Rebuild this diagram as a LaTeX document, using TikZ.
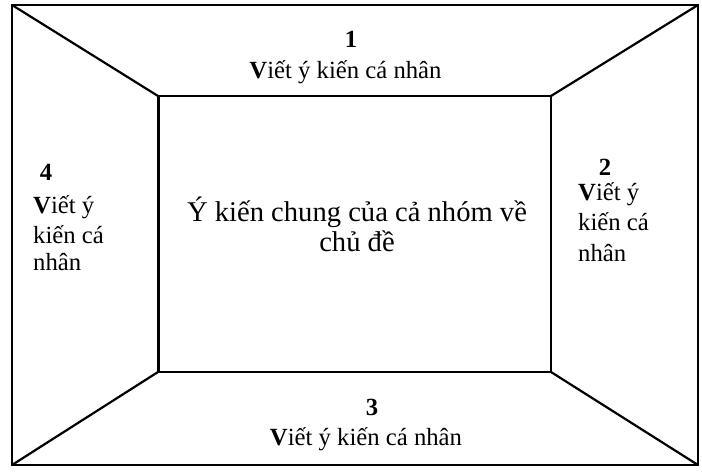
\documentclass[tikz,border=0pt]{standalone}
\usepackage{fontspec}
\setmainfont{Liberation Serif}
\begin{document}
\begin{tikzpicture}[x=1bp,y=-1bp,
  frame/.style={line width=1.6bp,black},
  diag/.style={line width=2.2bp,black},
  inner/.style={line width=1.2bp,black},
  side/.style={inner sep=0pt,font=\fontsize{24.7bp}{30bp}\selectfont},
  mid/.style={inner sep=0pt,font=\fontsize{28.6bp}{33bp}\selectfont}]
\useasboundingbox (0,0) rectangle (702,473);
\fill[white] (0,0) rectangle (702,473);
\coordinate (O1) at (12,5);
\coordinate (O2) at (698,5);
\coordinate (O3) at (698,465);
\coordinate (O4) at (12,465);
\coordinate (I1) at (158,96);
\coordinate (I2) at (551,96);
\coordinate (I3) at (551,372);
\coordinate (I4) at (158,372);
\draw[frame] (O1) -- (O2) -- (O3) -- (O4) -- cycle;
\draw[inner] (I1) -- (I2) -- (I3) -- (I4) -- cycle;
\draw[line width=3bp] (I1) -- (I4);
\draw[diag] (O1) -- (I1);
\draw[diag] (O2) -- (I2);
\draw[diag] (O3) -- (I3);
\draw[diag] (O4) -- (I4);
% top
\node[side,anchor=base] (n1) at (351,48) {\textbf{1}};
\node[side,anchor=base] (t1) at (345.5,79) {\textbf{V}iết ý kiến cá nhân};
% centre
\node[mid,anchor=base] (c1) at (357,222) {Ý kiến chung của cả nhóm về};
\node[mid,anchor=base] (c2) at (357,252) {chủ đề};
% right
\node[side,anchor=base] (n2) at (605,176) {\textbf{2}};
\node[side,anchor=base west] (r1) at (578,201) {\textbf{V}iết ý};
\node[side,anchor=base west] (r2) at (578,231) {kiến cá};
\node[side,anchor=base west] (r3) at (578,262) {nhân};
% bottom
\node[side,anchor=base] (n3) at (372,415) {\textbf{3}};
\node[side,anchor=base] (t3) at (366,445) {\textbf{V}iết ý kiến cá nhân};
% left
\node[side,anchor=base] (n4) at (46,181) {\textbf{4}};
\node[side,anchor=base west] (l1) at (33,214) {\textbf{V}iết ý};
\node[side,anchor=base west] (l2) at (33,244) {kiến cá};
\node[side,anchor=base west] (l3) at (33,271) {nhân};
\end{tikzpicture}
\end{document}
